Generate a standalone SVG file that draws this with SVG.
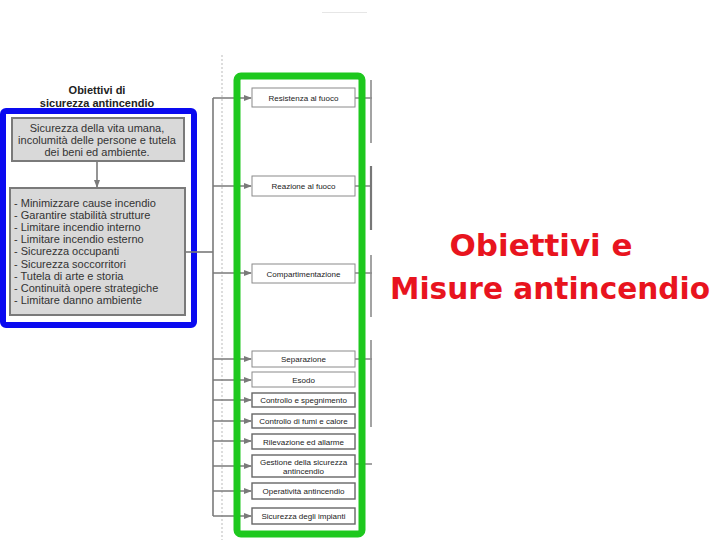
<svg xmlns="http://www.w3.org/2000/svg" width="720" height="540" viewBox="0 0 720 540">
<style>
.t{font-family:"Liberation Sans",Arial,sans-serif;fill:#333}
.ttl{font-size:11px;font-weight:bold;text-anchor:middle;fill:#222}
.g{font-size:11px}
.gc{font-size:11px;text-anchor:middle}
.m{font-size:8px;text-anchor:middle;fill:#222}
.mb{fill:#fff;stroke:#8a8a8a;stroke-width:1}
.mb2{fill:#fff;stroke:#666;stroke-width:1.4}
.gb{fill:#d9d9d9;stroke:#7a7a7a;stroke-width:2}
.ln{stroke:#7a7a7a;stroke-width:1.6;fill:none}
.rs{stroke:#8c8c8c;stroke-width:1.6;fill:none}
.red{font-family:"Comic Sans MS","DejaVu Sans",sans-serif;font-size:30px;font-weight:bold;fill:#e8141e;text-anchor:middle}
</style>
<defs>
<marker id="ah" markerWidth="8" markerHeight="6" refX="7" refY="3" orient="auto" markerUnits="userSpaceOnUse">
<path d="M0,0 L8,3 L0,6 z" fill="#7a7a7a"/>
</marker>
</defs>
<rect width="720" height="540" fill="#fff"/>
<line x1="322" y1="12.5" x2="367" y2="12.5" stroke="#e6e6e6" stroke-width="1"/>
<line x1="222" y1="55" x2="222" y2="540" stroke="#bbb" stroke-width="1" stroke-dasharray="2,2"/>

<g id="obiettivi">
<text class="t ttl" x="97" y="94">Obiettivi di</text>
<text class="t ttl" x="97" y="107">sicurezza antincendio</text>
<rect x="3" y="111" width="191" height="214" rx="3" fill="none" stroke="#0a0af0" stroke-width="6"/>
</g>
<g id="box-vita">
<rect class="gb" x="12" y="118" width="172" height="43"/>
<text class="t gc" x="97" y="132">Sicurezza della vita umana,</text>
<text class="t gc" x="97" y="144">incolumità delle persone e tutela</text>
<text class="t gc" x="97" y="156">dei beni ed ambiente.</text>
</g>
<g id="box-obiettivi">
<rect class="gb" x="10" y="188" width="175" height="127"/>
<text class="t g" x="14" y="207">- Minimizzare cause incendio</text>
<text class="t g" x="14" y="219">- Garantire stabilità strutture</text>
<text class="t g" x="14" y="231">- Limitare incendio interno</text>
<text class="t g" x="14" y="243">- Limitare incendio esterno</text>
<text class="t g" x="14" y="255">- Sicurezza occupanti</text>
<text class="t g" x="14" y="268">- Sicurezza soccorritori</text>
<text class="t g" x="14" y="280">- Tutela di arte e storia</text>
<text class="t g" x="14" y="292">- Continuità opere strategiche</text>
<text class="t g" x="14" y="304">- Limitare danno ambiente</text>
</g>

<g id="connectors">
<line class="ln" x1="97" y1="161" x2="97" y2="187" marker-end="url(#ah)"/>
<line class="ln" x1="185" y1="252" x2="213" y2="252"/>
<line class="ln" x1="213" y1="98" x2="213" y2="516"/>
<line class="ln" x1="213" y1="98" x2="251" y2="98" marker-end="url(#ah)"/>
<line class="ln" x1="213" y1="186" x2="251" y2="186" marker-end="url(#ah)"/>
<line class="ln" x1="213" y1="273" x2="251" y2="273" marker-end="url(#ah)"/>
<line class="ln" x1="213" y1="359" x2="251" y2="359" marker-end="url(#ah)"/>
<line class="ln" x1="213" y1="380" x2="251" y2="380" marker-end="url(#ah)"/>
<line class="ln" x1="213" y1="400" x2="251" y2="400" marker-end="url(#ah)"/>
<line class="ln" x1="213" y1="421" x2="251" y2="421" marker-end="url(#ah)"/>
<line class="ln" x1="213" y1="441" x2="251" y2="441" marker-end="url(#ah)"/>
<line class="ln" x1="213" y1="466" x2="251" y2="466" marker-end="url(#ah)"/>
<line class="ln" x1="213" y1="491" x2="251" y2="491" marker-end="url(#ah)"/>
<line class="ln" x1="213" y1="516" x2="251" y2="516" marker-end="url(#ah)"/>
<line class="rs" x1="355" y1="98" x2="372" y2="98"/>
<line class="rs" x1="355" y1="186" x2="372" y2="186"/>
<line class="rs" x1="355" y1="273" x2="372" y2="273"/>
<line class="rs" x1="355" y1="359" x2="372" y2="359"/>
<line class="rs" x1="355" y1="464" x2="372" y2="464"/>
<line class="rs" x1="371" y1="80" x2="371" y2="143"/>
<line x1="371" y1="166" x2="371" y2="230" stroke="#777" stroke-width="2.2"/>
<line class="rs" x1="371" y1="255" x2="371" y2="317"/>
<line class="rs" x1="371" y1="340" x2="371" y2="427"/>
</g>

<g id="misure">
<rect x="237" y="76" width="125" height="458" rx="4" fill="none" stroke="#1ec81e" stroke-width="7"/>
</g>
<g id="m1"><rect class="mb" x="252" y="88" width="103" height="19"/><text class="t m" x="303.5" y="100.5">Resistenza al fuoco</text></g>
<g id="m2"><rect class="mb" x="252" y="176" width="103" height="20"/><text class="t m" x="303.5" y="189">Reazione al fuoco</text></g>
<g id="m3"><rect class="mb" x="252" y="264" width="103" height="19"/><text class="t m" x="303.5" y="276.5">Compartimentazione</text></g>
<g id="m4"><rect class="mb" x="252" y="351" width="103" height="16"/><text class="t m" x="303.5" y="362">Separazione</text></g>
<g id="m5"><rect class="mb" x="252" y="372" width="103" height="15"/><text class="t m" x="303.5" y="382.5">Esodo</text></g>
<g id="m6"><rect class="mb2" x="252" y="393" width="103" height="14"/><text class="t m" x="303.5" y="403">Controllo e spegnimento</text></g>
<g id="m7"><rect class="mb2" x="252" y="414" width="103" height="14"/><text class="t m" x="303.5" y="424">Controllo di fumi e calore</text></g>
<g id="m8"><rect class="mb2" x="252" y="434" width="103" height="15"/><text class="t m" x="303.5" y="444.5">Rilevazione ed allarme</text></g>
<g id="m9"><rect class="mb2" x="252" y="455" width="103" height="22"/><text class="t m" x="303.5" y="465">Gestione della sicurezza</text><text class="t m" x="303.5" y="474">antincendio</text></g>
<g id="m10"><rect class="mb2" x="252" y="483" width="103" height="16"/><text class="t m" x="303.5" y="494">Operatività antincendio</text></g>
<g id="m11"><rect class="mb2" x="252" y="508" width="103" height="16"/><text class="t m" x="303.5" y="519">Sicurezza degli impianti</text></g>

<g id="titolo">
<text class="red" x="541" y="256" textLength="183" lengthAdjust="spacingAndGlyphs">Obiettivi e</text>
<text class="red" x="550" y="299" textLength="320" lengthAdjust="spacingAndGlyphs">Misure antincendio</text>
</g>
</svg>
